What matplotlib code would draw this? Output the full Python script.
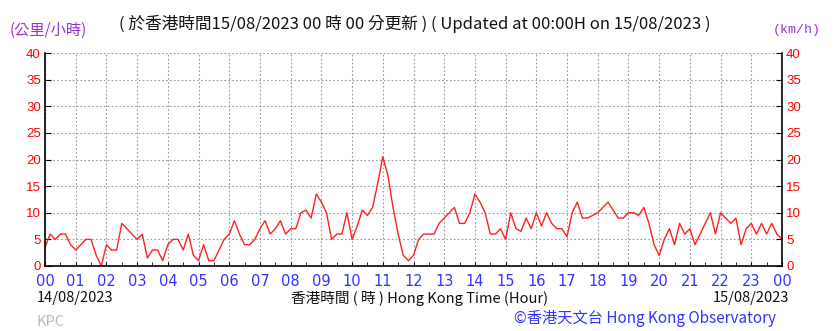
import numpy as np
import matplotlib
matplotlib.use("Agg")
import matplotlib.pyplot as plt
from matplotlib.ticker import MultipleLocator

CJK = ['Noto Sans CJK TC', 'DejaVu Sans']
plt.rcParams['font.family'] = CJK

# wind speed (km/h), 10-minute readings from 00:00 14/08 to 00:00 15/08
speed_by_hour = [
    [3.5, 6, 5, 6, 6, 4],        # 00
    [3, 4, 5, 5, 2, 0],          # 01
    [4, 3, 3, 8, 7, 6],          # 02
    [5, 6, 1.5, 3, 3, 1],        # 03
    [4, 5, 5, 3, 6, 2],          # 04
    [1, 4, 1, 1, 3, 5],          # 05
    [6, 8.5, 6, 4, 4, 5],        # 06
    [7, 8.5, 6, 7, 8.5, 6],      # 07
    [7, 7, 10, 10.5, 9, 13.5],   # 08
    [12, 10, 5, 6, 6, 10],       # 09
    [5, 7.5, 10.5, 9.5, 11, 15.5],  # 10
    [20.5, 17, 11, 6, 2, 1],     # 11
    [2, 5, 6, 6, 6, 8],          # 12
    [9, 10, 11, 8, 8, 10],       # 13
    [13.5, 12, 10, 6, 6, 7],     # 14
    [5, 10, 7, 6.5, 9, 7],       # 15
    [10, 7.5, 10, 8, 7, 7],      # 16
    [5.5, 10, 12, 9, 9, 9.5],    # 17
    [10, 11, 12, 10.5, 9, 9],    # 18
    [10, 10, 9.5, 11, 8, 4],     # 19
    [2, 5, 7, 4, 8, 6],          # 20
    [7, 4, 6, 8, 10, 6],         # 21
    [10, 9, 8, 9, 4, 7],         # 22
    [8, 6, 8, 6, 8, 6],          # 23
]
last_speed = 5
hour_labels = ['%02d' % h for h in range(24)] + ['00']

speed = np.array([v for hr in speed_by_hour for v in hr] + [last_speed])
hours = np.arange(len(speed)) / 6.0

RED = '#ff0000'
BLUE = '#3333ff'
PURPLE = '#9933cc'

fig = plt.figure(figsize=(8.36, 3.31), dpi=100)
ax = fig.add_axes([45 / 836, 65 / 331, 737 / 836, 213 / 331])

ax.plot(hours, speed, color='#ff2020', lw=1.0)

ax.set_xlim(0, 24)
ax.set_ylim(0, 40)
ax.set_xticks(range(25))
ax.set_xticklabels(hour_labels, color=BLUE, fontsize=10.5, family='DejaVu Sans')
ax.xaxis.set_minor_locator(MultipleLocator(0.5))
ax.yaxis.set_major_locator(MultipleLocator(5))
ax.tick_params(axis='x', which='both', direction='in', length=3, pad=6, color='black')
ax.tick_params(axis='y', which='both', direction='in', length=4, labelcolor=RED,
               labelsize=9.5, right=True, labelright=True, pad=3)
for t in ax.yaxis.get_major_ticks():
    for lab in (t.label1, t.label2):
        lab.set_family('Liberation Sans')
        lab.set_va('center_baseline')

ax.grid(True, which='major', color='#999999', linestyle=(0, (1.5, 2)), lw=0.8)
ax.spines['top'].set_visible(False)
for s in ['left', 'right', 'bottom']:
    ax.spines[s].set_color('black')
    ax.spines[s].set_linewidth(1.2)

fig.text(10 / 836, 1 - 30 / 331, '(公里/小時)', color=PURPLE, fontsize=11, va='center', ha='left')
fig.text(821 / 836, 1 - 30 / 331, '(km/h)', color=PURPLE, fontsize=9.5, va='center', ha='right',
         family='Liberation Mono')
fig.text(415 / 836, 1 - 24 / 331,
         '( 於香港時間15/08/2023 00 時 00 分更新 ) ( Updated at 00:00H on 15/08/2023 )',
         color='#111111', fontsize=12, va='center', ha='center')

fig.text(37 / 836, 1 - 298 / 331, '14/08/2023', color='#111111', fontsize=10.5, va='center', ha='left')
fig.text(420 / 836, 1 - 298 / 331, '香港時間 ( 時 ) Hong Kong Time (Hour)', color='#111111',
         fontsize=10.5, va='center', ha='center')
fig.text(789 / 836, 1 - 298 / 331, '15/08/2023', color='#111111', fontsize=10.5, va='center', ha='right')
fig.text(37 / 836, 1 - 322 / 331, 'KPC', color='#bbbbbb', fontsize=10.5, va='center', ha='left')
fig.text(776 / 836, 1 - 318 / 331, '©香港天文台 Hong Kong Observatory', color=BLUE,
         fontsize=11, va='center', ha='right')

fig.savefig('out.png', dpi=100)
